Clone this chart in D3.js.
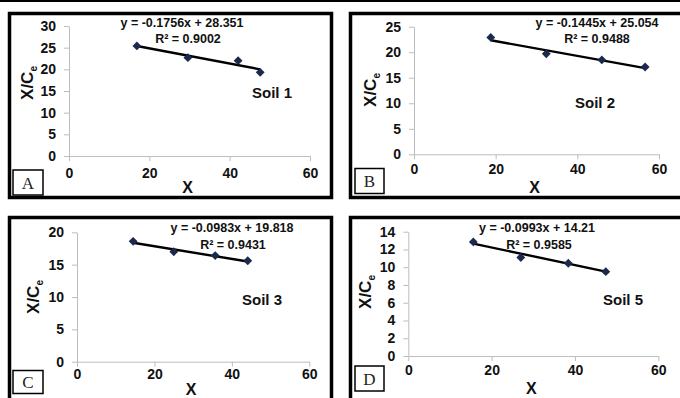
<!DOCTYPE html>
<html>
<head>
<meta charset="utf-8">
<script src="https://cdn.jsdelivr.net/npm/d3@7"></script>
<style>
  body { margin: 0; background: #fff; }
  svg text { font-family: "Liberation Sans", Arial, sans-serif; }
</style>
</head>
<body>
<div id="chart"></div>
<script>
// values
var letters = ['A', 'B', 'C', 'D']
var soilNames = ['Soil 1', 'Soil 2', 'Soil 3', 'Soil 5']
var xValues = [
    [16.9, 29.6, 42.1, 47.6],
    [18.8, 32.4, 46.0, 56.6],
    [14.5, 25.0, 35.7, 44.1],
    [15.6, 27.0, 38.4, 47.4]
]
var yValues = [
    [25.4, 22.7, 22.0, 19.3],
    [22.9, 19.7, 18.5, 17.1],
    [18.6, 17.0, 16.4, 15.6],
    [12.85, 11.1, 10.45, 9.5]
]
var slopes = [-0.1756, -0.1445, -0.0983, -0.0993]
var intercepts = [28.351, 25.054, 19.818, 14.21]
var r2Values = ['0.9002', '0.9488', '0.9431', '0.9585']
var yMaxes = [30, 25, 20, 14]
var yTickSteps = [5, 5, 5, 2]
var xTicks = [0, 20, 40, 60]

var width = 680, height = 398

// where every panel sits in the picture
var layout = [
    {frame: [9.5, 13.5, 322, 184], letterBox: [13, 170, 30, 25], plot: [69, 310, 26, 156],
     xLab: 20, xTitle: 193, yTitle: [27, 83], eq: [182, 27], r2: [188, 43], soil: [272, 98]},
    {frame: [350.5, 13.5, 340, 184], letterBox: [355, 168.5, 29, 25], plot: [414, 659, 26.7, 154.3],
     xLab: 17.5, xTitle: 193, yTitle: [370, 90], eq: [597, 27], r2: [597, 43], soil: [595, 108]},
    {frame: [9.5, 217.5, 322, 200], letterBox: [13, 370.5, 30, 23], plot: [77, 309.3, 232.3, 361.7],
     xLab: 15, xTitle: 395, yTitle: [33, 297], eq: [232, 232], r2: [233, 249], soil: [262, 305]},
    {frame: [350.5, 217.5, 340, 200], letterBox: [355, 366, 29, 25], plot: [408.3, 658.3, 231.7, 356],
     xLab: 17.5, xTitle: 394, yTitle: [365, 292], eq: [537, 232], r2: [539, 249], soil: [623, 305]}
]

var svg = d3.select('#chart').append('svg')
    .attr('width', width)
    .attr('height', height)

svg.append('rect')
    .attr('width', width).attr('height', height)
    .attr('fill', '#fff')

// black rule along the top edge
svg.append('rect')
    .attr('x', 0).attr('y', 0)
    .attr('width', width).attr('height', 2)
    .attr('fill', '#000')

letters.forEach(function (letter, i) {
    var L = layout[i]
    var g = svg.append('g')

    g.append('rect')
        .attr('x', L.frame[0]).attr('y', L.frame[1])
        .attr('width', L.frame[2]).attr('height', L.frame[3])
        .attr('fill', '#fff')
        .attr('stroke', '#000')
        .attr('stroke-width', 3.5)

    var x = d3.scaleLinear().domain([0, 60]).range([L.plot[0], L.plot[1]])
    var y = d3.scaleLinear().domain([0, yMaxes[i]]).range([L.plot[3], L.plot[2]])

    var xAxis = g.append('g')
        .attr('transform', 'translate(0,' + L.plot[3] + ')')
        .call(d3.axisBottom(x).tickValues(xTicks).tickSize(5).tickSizeOuter(0).tickPadding(L.xLab - 13))
    var yAxis = g.append('g')
        .attr('transform', 'translate(' + L.plot[0] + ',0)')
        .call(d3.axisLeft(y).tickValues(d3.range(0, yMaxes[i] + 0.001, yTickSteps[i])).tickSize(5).tickSizeOuter(0).tickPadding(8))

    ;[xAxis, yAxis].forEach(function (a) {
        a.select('.domain').attr('stroke', '#bdbdbd')
        a.selectAll('.tick line').attr('stroke', '#bdbdbd')
        a.selectAll('.tick text')
            .attr('fill', '#111')
            .style('font-size', '14px')
            .style('font-weight', 'bold')
    })

    // trend line
    var xs = xValues[i]
    var x0 = d3.min(xs), x1 = d3.max(xs)
    var fit = [[x0, slopes[i] * x0 + intercepts[i]], [x1, slopes[i] * x1 + intercepts[i]]]
    g.append('path')
        .datum(fit)
        .attr('d', d3.line().x(function (d) { return x(d[0]) }).y(function (d) { return y(d[1]) }))
        .attr('stroke', '#000')
        .attr('stroke-width', 2.4)
        .attr('fill', 'none')

    // diamond markers
    g.selectAll('.pt')
        .data(xs.map(function (v, j) { return [v, yValues[i][j]] }))
        .enter().append('path')
        .attr('class', 'pt')
        .attr('transform', function (d) { return 'translate(' + x(d[0]) + ',' + y(d[1]) + ')' })
        .attr('d', d3.symbol().type(d3.symbolDiamond2).size(50))
        .attr('fill', '#1b2a4c')

    g.append('text')
        .attr('x', L.eq[0]).attr('y', L.eq[1])
        .attr('text-anchor', 'middle')
        .style('font-size', '12.5px').style('font-weight', 'bold')
        .attr('fill', '#111')
        .text('y = ' + slopes[i] + 'x + ' + intercepts[i])

    g.append('text')
        .attr('x', L.r2[0]).attr('y', L.r2[1])
        .attr('text-anchor', 'middle')
        .style('font-size', '12.5px').style('font-weight', 'bold')
        .attr('fill', '#111')
        .text('R² = ' + r2Values[i])

    g.append('text')
        .attr('x', L.soil[0]).attr('y', L.soil[1])
        .attr('text-anchor', 'middle')
        .style('font-size', '15px').style('font-weight', 'bold')
        .attr('fill', '#111')
        .text(soilNames[i])

    g.append('text')
        .attr('x', (L.plot[0] + L.plot[1]) / 2 - 2).attr('y', L.xTitle)
        .attr('text-anchor', 'middle')
        .style('font-size', '16px').style('font-weight', 'bold')
        .attr('fill', '#111')
        .text('X')

    var yt = g.append('text')
        .attr('transform', 'translate(' + (L.yTitle[0] + 6) + ',' + L.yTitle[1] + ') rotate(-90)')
        .attr('text-anchor', 'middle')
        .style('font-size', '17px').style('font-weight', 'bold')
        .attr('fill', '#111')
    yt.append('tspan').text('X/C')
    yt.append('tspan').attr('dy', 4).style('font-size', '10px').text('e')

    g.append('rect')
        .attr('x', L.letterBox[0]).attr('y', L.letterBox[1])
        .attr('width', L.letterBox[2]).attr('height', L.letterBox[3])
        .attr('fill', '#fff')
        .attr('stroke', '#000')
        .attr('stroke-width', 1.5)

    g.append('text')
        .attr('x', L.letterBox[0] + L.letterBox[2] / 2)
        .attr('y', L.letterBox[1] + L.letterBox[3] / 2 + 6)
        .attr('text-anchor', 'middle')
        .style('font-family', '"Liberation Serif", "DejaVu Serif", serif')
        .style('font-size', '17px')
        .attr('fill', '#222')
        .text(letter)
})
</script>
</body>
</html>
